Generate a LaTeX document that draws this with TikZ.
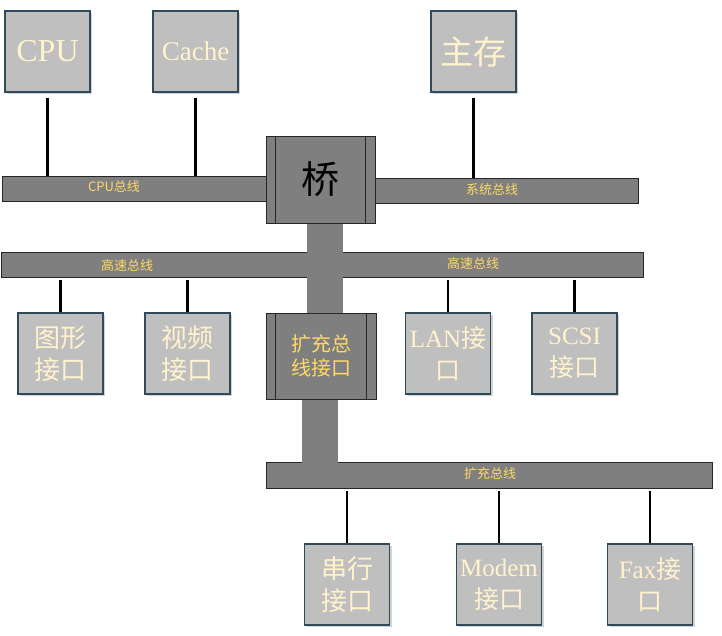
\documentclass[tikz,border=0pt]{standalone}
\usepackage{fontspec}
\setmainfont{Liberation Serif}
\newfontfamily\cjk{Noto Sans CJK SC}
\usetikzlibrary{shadows}

\definecolor{boxfill}{HTML}{BFBFBF}
\definecolor{boxedge}{HTML}{2F4B5B}
\definecolor{busfill}{HTML}{7F7F7F}
\definecolor{busedge}{HTML}{262626}
\definecolor{cream}{HTML}{FFF2CC}
\definecolor{gold}{HTML}{FFD966}

\begin{document}
\begin{tikzpicture}[
        x=1pt, y=-1pt,
        % 部件方框：浅灰底、深色边框、阴影
        unit/.style={
            draw=boxedge, line width=1.5pt, fill=boxfill, text=cream,
            minimum width=85pt, minimum height=81pt, inner sep=0pt,
            align=center,
            drop shadow={shadow xshift=2pt, shadow yshift=-2pt, opacity=0.35}
        },
        % 方框内文字
        cjkbox/.style={font=\cjk\fontsize{26}{32}\selectfont},
        mixbox/.style={font=\fontsize{25}{32}\selectfont},
        % 总线：深灰长条
        bus/.style={
            draw=busedge, line width=0.8pt, fill=busfill,
            inner sep=0pt, minimum height=25pt
        },
        % 总线名称
        busname/.style={
            text=gold, font=\cjk\fontsize{13}{13}\selectfont, inner sep=0pt
        },
        % 桥和扩充总线接口
        hub/.style={bus, align=center},
        % 竖向干线
        trunk/.style={fill=busfill},
        % 连接线
        link/.style={line width=2.5pt, black}
    ]

        \useasboundingbox (0,0) rectangle (722,636);

        % 总线
        \node[bus, minimum width=642pt] (hsbus) at (322,264.5) {};
        \node[bus, minimum width=446pt, minimum height=26pt] (expbus) at (489,475) {};
        \node[bus, minimum width=264pt] (cpubus) at (134,188.5) {};
        \node[bus, minimum width=263pt] (sysbus) at (506.5,190.5) {};

        % 竖向干线
        \fill[trunk] (307,223) rectangle (343,313);
        \fill[trunk] (302,399) rectangle (338,463);

        % 桥、扩充总线接口
        \node[hub, minimum width=109pt, minimum height=87pt,
              font=\cjk\fontsize{38}{38}\selectfont] (bridge) at (320.5,179.5) {桥};
        \node[hub, minimum width=110pt, minimum height=86pt, text=gold,
              font=\cjk\fontsize{20}{24}\selectfont] (expif) at (321,356) {扩充总\\线接口};
        \foreach \h in {bridge, expif} {
            \draw[busedge, line width=0.8pt] ([xshift=10pt]\h.north west) -- ([xshift=10pt]\h.south west);
            \draw[busedge, line width=0.8pt] ([xshift=-10pt]\h.north east) -- ([xshift=-10pt]\h.south east);
        }

        % 上层部件
        \node[unit, font=\fontsize{32}{32}\selectfont] (cpu) at (47.5,51.5) {CPU};
        \node[unit, font=\fontsize{27}{27}\selectfont] (cache) at (195.5,51.5) {Cache};
        \node[unit, font=\cjk\fontsize{33}{33}\selectfont] (mem) at (473.5,51.5) {主存};

        % 高速总线上的接口
        \node[unit, cjkbox] (gfx) at (60.5,353.5) {图形\\接口};
        \node[unit, cjkbox] (video) at (187.5,353.5) {视频\\接口};
        \node[unit, mixbox] (lan) at (448,353.5) {LAN{\cjk 接}\\{\cjk 口}};
        \node[unit, mixbox] (scsi) at (574.5,353.5) {SCSI\\{\cjk 接口}};

        % 扩充总线上的接口
        \node[unit, cjkbox] (serial) at (347,584.5) {串行\\接口};
        \node[unit, mixbox] (modem) at (499,584.5) {Modem\\{\cjk 接口}};
        \node[unit, mixbox] (fax) at (650,584.5) {Fax{\cjk 接}\\{\cjk 口}};

        % 连接线
        \draw[link, shorten <=5pt] (cpu.south) -- (cpu.south |- cpubus.north);
        \draw[link, shorten <=5pt] (cache.south) -- (cache.south |- cpubus.north);
        \draw[link, shorten <=5pt] (mem.south) -- (mem.south |- sysbus.north);
        \draw[link, shorten >=3pt] (gfx.north) -- (gfx.north |- hsbus.south);
        \draw[link, shorten >=3pt] (video.north) -- (video.north |- hsbus.south);
        \draw[link, shorten >=3pt] (lan.north) -- (lan.north |- hsbus.south);
        \draw[link, shorten >=3pt] (scsi.north) -- (scsi.north |- hsbus.south);
        \draw[link, shorten >=3pt] (serial.north) -- (serial.north |- expbus.south);
        \draw[link, shorten >=3pt] (modem.north) -- (modem.north |- expbus.south);
        \draw[link, shorten >=3pt] (fax.north) -- (fax.north |- expbus.south);

        % 总线名称
        \node[busname] (cpubusname) at (114,187) {CPU总线};
        \node[busname] (sysbusname) at (492,190) {系统总线};
        \node[busname] (hsname1) at (127,266) {高速总线};
        \node[busname] (hsname2) at (473,264) {高速总线};
        \node[busname] (expbusname) at (490,474) {扩充总线};

\end{tikzpicture}
\end{document}
